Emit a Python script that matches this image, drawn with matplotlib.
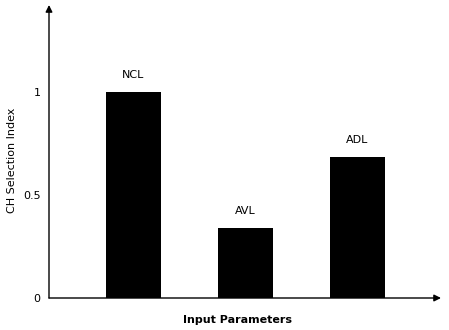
import matplotlib
matplotlib.use("Agg")
import matplotlib.pyplot as plt

# data
categories = ["NCL", "AVL", "ADL"]
values = [1.0, 0.34, 0.685]
ytick_vals = [0, 0.5, 1]
ytick_labels = ["0", "0.5", "1"]

plt.rcParams["font.family"] = ["Liberation Sans Narrow", "DejaVu Sans"]

fig = plt.figure(figsize=(4.49, 3.30), dpi=100)
ax = fig.add_axes([49 / 449, 32 / 330, 392 / 449, 293 / 330])

x = list(range(len(categories)))
ax.bar(x, values, width=0.49, color="black")
for xi, v, name in zip(x, values, categories):
    ax.text(xi, v + 0.055, name, ha="center", va="bottom", fontsize=8)

ax.set_xlim(-0.754, 2.746)
ax.set_ylim(0, 1.42)

for s in ax.spines.values():
    s.set_visible(False)

# axis arrows
ax.annotate("", xy=(1.0, 0), xytext=(0, 0), xycoords="axes fraction",
            arrowprops=dict(arrowstyle="-|>", color="black", lw=1.0,
                            mutation_scale=10, shrinkA=0, shrinkB=0))
ax.annotate("", xy=(0, 1.0), xytext=(0, 0), xycoords="axes fraction",
            arrowprops=dict(arrowstyle="-|>", color="black", lw=1.0,
                            mutation_scale=10, shrinkA=0, shrinkB=0))

ax.set_xticks([])
ax.set_yticks(ytick_vals)
ax.set_yticklabels(ytick_labels, fontsize=8)
ax.tick_params(axis="y", length=0, pad=6)

fig.text(12 / 449, 1 - 160 / 330, "CH Selection Index", rotation=90,
         ha="center", va="center", fontsize=8)
ax.set_xlabel("Input Parameters", fontsize=8, fontweight="bold", labelpad=10)
ax.xaxis.set_label_coords((237 - 49) / 392, -17 / 293)

fig.savefig("out.png", dpi=100)
